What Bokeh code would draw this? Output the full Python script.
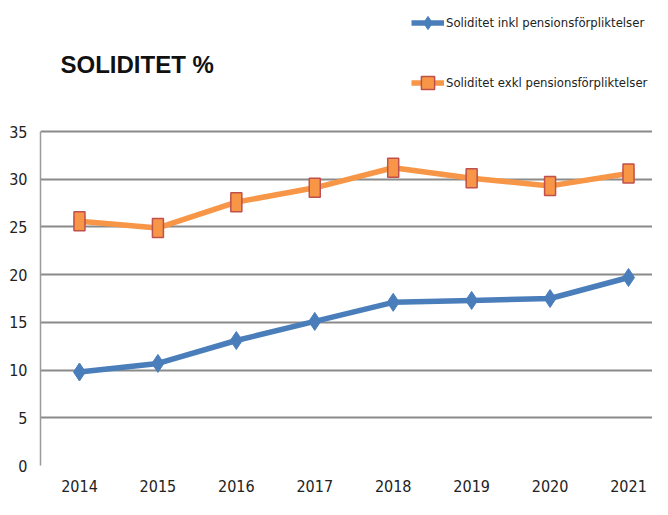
from bokeh.plotting import figure
from bokeh.models import Range1d, FixedTicker, Legend, LegendItem, Label, ColumnDataSource
from bokeh.embed import file_html
from bokeh.resources import INLINE

years = [2014, 2015, 2016, 2017, 2018, 2019, 2020, 2021]
inkl = [9.8, 10.7, 13.1, 15.1, 17.1, 17.3, 17.5, 19.7]
exkl = [25.6, 24.9, 27.6, 29.1, 31.2, 30.1, 29.3, 30.6]
y_ticks = [0, 5, 10, 15, 20, 25, 30, 35]
series_names = ["Soliditet inkl pensionsförpliktelser", "Soliditet exkl pensionsförpliktelser"]
title_text = "SOLIDITET %"

BLUE = "#4A7EBB"
ORANGE = "#F79646"
EDGE = "#C0504D"
NARROW = "DejaVu Sans Condensed"

src = ColumnDataSource(dict(year=years, inkl=inkl, exkl=exkl))

# frame extends to the top of the canvas so that title and legend sit inside it
p = figure(width=652, height=499, output_backend="svg", toolbar_location=None,
           x_range=Range1d(2013.503, 2021.306), y_range=Range1d(0, 48.73),
           min_border_left=40, min_border_right=0, min_border_top=0, min_border_bottom=34)
p.outline_line_color = None
p.background_fill_color = "white"
p.border_fill_color = "white"

p.xgrid.grid_line_color = None
p.ygrid.grid_line_color = "#8A8A8A"
p.ygrid.grid_line_width = 2

p.yaxis.ticker = FixedTicker(ticks=y_ticks)
p.xaxis.ticker = FixedTicker(ticks=years)
for ax in (p.xaxis[0], p.yaxis[0]):
    ax.major_tick_line_color = None
    ax.minor_tick_line_color = None
    ax.major_tick_out = 0
    ax.major_tick_in = 0
    ax.minor_tick_out = 0
    ax.minor_tick_in = 0
    ax.major_label_text_font = NARROW
    ax.major_label_text_font_size = "16px"
    ax.major_label_text_color = "#222222"
p.yaxis.bounds = (0, 35)
p.yaxis.axis_line_color = "#9A9A9A"
p.yaxis.axis_line_width = 1.5
p.xaxis.axis_line_color = None
p.yaxis.major_label_standoff = 13
p.xaxis.major_label_standoff = 14

l1 = p.line("year", "inkl", source=src, line_color=BLUE, line_width=5.5)
m1 = p.scatter("year", "inkl", source=src, marker="diamond", size=18,
               fill_color=BLUE, line_color=BLUE)

l2 = p.line("year", "exkl", source=src, line_color=ORANGE, line_width=5.5)
m2 = p.scatter("year", "exkl", source=src, marker="square", size=10,
               fill_color=ORANGE, line_color=EDGE, line_width=1.5)
p.rect("year", "exkl", source=src, width=11, height=19, width_units="screen",
       height_units="screen", fill_color=ORANGE, line_color=EDGE, line_width=1.5)

legend = Legend(items=[LegendItem(label=series_names[0], renderers=[l1, m1]),
                       LegendItem(label=series_names[1], renderers=[l2, m2])],
                location=(371, 360), orientation="vertical",
                spacing=15, padding=0, margin=0, glyph_width=33, glyph_height=45,
                label_standoff=2, label_text_font=NARROW, label_text_font_size="13px",
                label_text_color="#222222", border_line_color=None,
                background_fill_alpha=0)
p.add_layout(legend)

title = Label(x=20, y=401, x_units="screen", y_units="screen", text=title_text,
              text_font="Liberation Sans", text_font_style="bold",
              text_font_size="24px", text_color="#111111", text_baseline="alphabetic")
p.add_layout(title)

open("out.html", "w").write(file_html(p, INLINE))
